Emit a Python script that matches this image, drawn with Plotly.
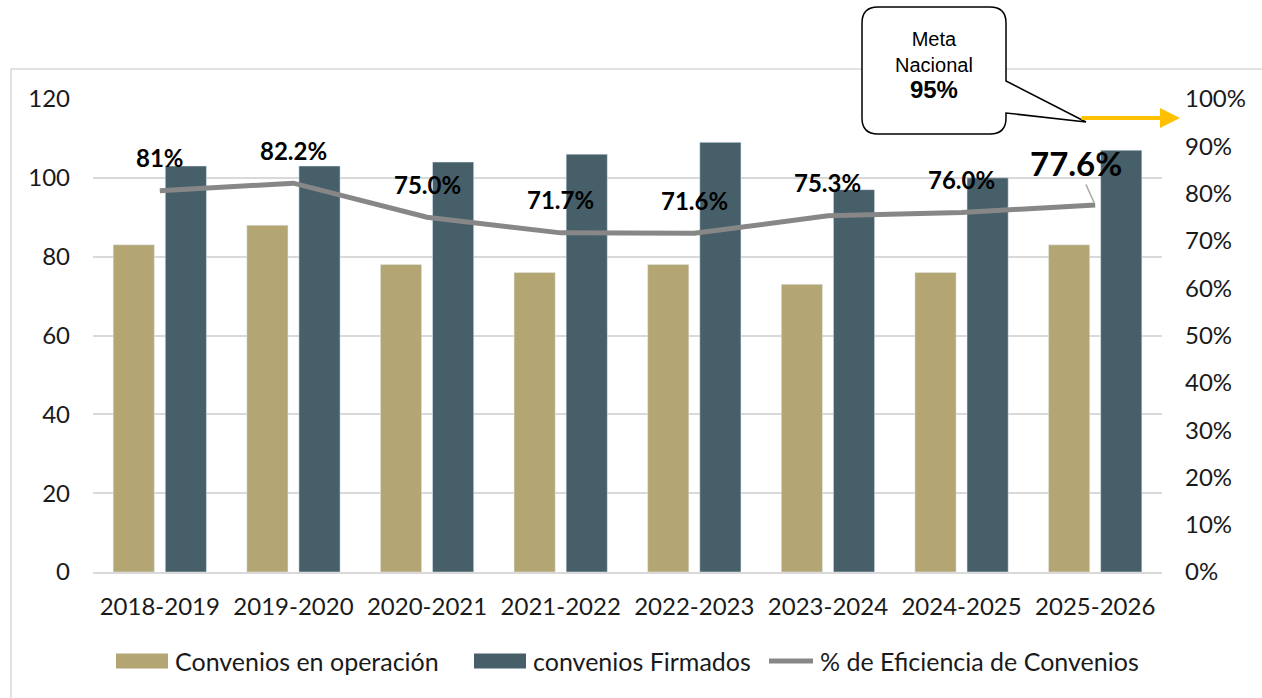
import plotly.graph_objects as go

periods = ["2018-2019", "2019-2020", "2020-2021", "2021-2022",
           "2022-2023", "2023-2024", "2024-2025", "2025-2026"]
en_operacion = [83, 88, 78, 76, 78, 73, 76, 83]
firmados = [103, 103, 104, 106, 109, 97, 100, 107]
eficiencia = [80.6, 82.2, 75.0, 71.7, 71.6, 75.3, 76.0, 77.6]
eficiencia_labels = ["81%", "82.2%", "75.0%", "71.7%", "71.6%", "75.3%", "76.0%", "77.6%"]
meta_nacional = 95

TAN = "#B3A672"
SLATE = "#465F69"
GREY_LINE = "#878787"
GRID = "#D9D9D9"
FONT = "Lato"

# plot area in pixels (used to place the callout / legend drawn in paper coords)
L, R, T, B = 93, 100, 99, 126
W, H = 1262, 698
PW, PH = W - L - R, H - T - B


def px(x):
    return (x - L) / PW


def py(y):
    return (H - B - y) / PH


fig = go.Figure()
fig.add_trace(go.Bar(x=periods, y=en_operacion, name="Convenios en operación",
                     marker_color=TAN))
fig.add_trace(go.Bar(x=periods, y=firmados, name="convenios Firmados",
                     marker_color=SLATE))
fig.add_trace(go.Scatter(x=periods, y=[v / 100 for v in eficiencia],
                         name="% de Eficiencia de Convenios", yaxis="y2",
                         mode="lines", line=dict(color=GREY_LINE, width=5)))

annotations = []
for i, (p, v, lab) in enumerate(zip(periods, eficiencia, eficiencia_labels)):
    if i == len(periods) - 1:
        annotations.append(dict(
            x=p, y=v / 100, yref="y2", text=f"<b>{lab}</b>", showarrow=True,
            ax=-19, ay=-42, arrowhead=0, arrowwidth=1.5, arrowcolor="#A6A6A6",
            standoff=3, font=dict(family=FONT, size=33, color="#000000")))
    else:
        annotations.append(dict(
            x=p, y=v / 100, yref="y2", text=f"<b>{lab}</b>", showarrow=False,
            yshift=33, font=dict(family=FONT, size=24, color="#000000")))

# yellow arrow pointing at the national goal
annotations.append(dict(
    x=px(1180), xref="paper", y=meta_nacional / 100 + 0.01, yref="y2", text="",
    showarrow=True, ax=-100, ay=0, arrowhead=2, arrowsize=1, arrowwidth=4,
    arrowcolor="#FFC000"))

# callout text
annotations.append(dict(
    x=px(934), y=py(65), xref="paper", yref="paper", showarrow=False,
    xanchor="center", yanchor="middle",
    text=f"Meta<br>Nacional<br><b><span style='font-size:24px'>{meta_nacional}%</span></b>",
    font=dict(family="Liberation Sans", size=20, color="#000000"),
    align="center"))

callout = [(878, 7), (990, 7), "Q", (1006, 7), (1006, 23), (1006, 81), (1086, 122),
           (1006, 113), (1006, 118), "Q", (1006, 134), (990, 134), (878, 134), "Q",
           (862, 134), (862, 118), (862, 23), "Q", (862, 7), (878, 7)]
path = ""
cmd = "M"
for item in callout:
    if item == "Q":
        cmd = "Q"
        continue
    path += f"{cmd} {px(item[0]):.5f},{py(item[1]):.5f} "
    if cmd == "M":
        cmd = "L"
    elif cmd == "Q":
        cmd = "Q2"
    elif cmd == "Q2":
        cmd = "L"
path = path.replace("Q2 ", "")

shapes = [
    dict(type="rect", xref="paper", yref="paper", x0=px(11), x1=1.3, y0=-0.6, y1=py(69),
         line=dict(color=GRID, width=1.5), fillcolor="rgba(0,0,0,0)", layer="below"),
    dict(type="path", xref="paper", yref="paper", path=path.strip() + " Z",
         line=dict(color="#000000", width=1.5), fillcolor="#FFFFFF", layer="above"),
]

# hand-drawn legend (wide swatches like the original)
legend_y = 661
legend_items = [
    (fig.data[0].name, TAN, "bar", 116, 173),
    (fig.data[1].name, SLATE, "bar", 474, 531),
    (fig.data[2].name, GREY_LINE, "line", 767, 818),
]
for name, color, kind, sx, tx in legend_items:
    if kind == "bar":
        shapes.append(dict(type="rect", xref="paper", yref="paper",
                           x0=px(sx), x1=px(sx + 52), y0=py(legend_y + 7.5),
                           y1=py(legend_y - 7.5), line=dict(width=0), fillcolor=color))
    else:
        shapes.append(dict(type="line", xref="paper", yref="paper",
                           x0=px(sx + 2), x1=px(sx + 46), y0=py(legend_y), y1=py(legend_y),
                           line=dict(color=color, width=5)))
    annotations.append(dict(x=px(tx), y=py(legend_y), xref="paper", yref="paper",
                            xanchor="left", yanchor="middle", showarrow=False,
                            text=name, font=dict(family=FONT, size=25, color="#1A1A1A")))

fig.update_layout(
    width=W, height=H,
    margin=dict(l=L, r=R, t=T, b=B),
    paper_bgcolor="#FFFFFF", plot_bgcolor="#FFFFFF",
    barmode="group", bargap=0.22, bargroupgap=0.21,
    font=dict(family=FONT, size=24, color="#1A1A1A"),
    xaxis=dict(showline=True, linecolor=GRID, linewidth=1.5, ticks="",
               ticklabelstandoff=12, tickfont=dict(size=24)),
    yaxis=dict(range=[0, 120], dtick=20, showgrid=True, gridcolor=GRID,
               gridwidth=1.5, zeroline=False, ticks="", ticklabelstandoff=22,
               tickfont=dict(size=24)),
    yaxis2=dict(overlaying="y", side="right", range=[0, 1], dtick=0.1,
                tickformat=".0%", showgrid=False, zeroline=False, ticks="",
                ticklabelstandoff=22, tickfont=dict(size=24)),
    annotations=annotations,
    shapes=shapes,
    showlegend=False,
)

fig.write_html("out.html", config={"displayModeBar": False},
               post_script="document.body.style.margin='0px';")
